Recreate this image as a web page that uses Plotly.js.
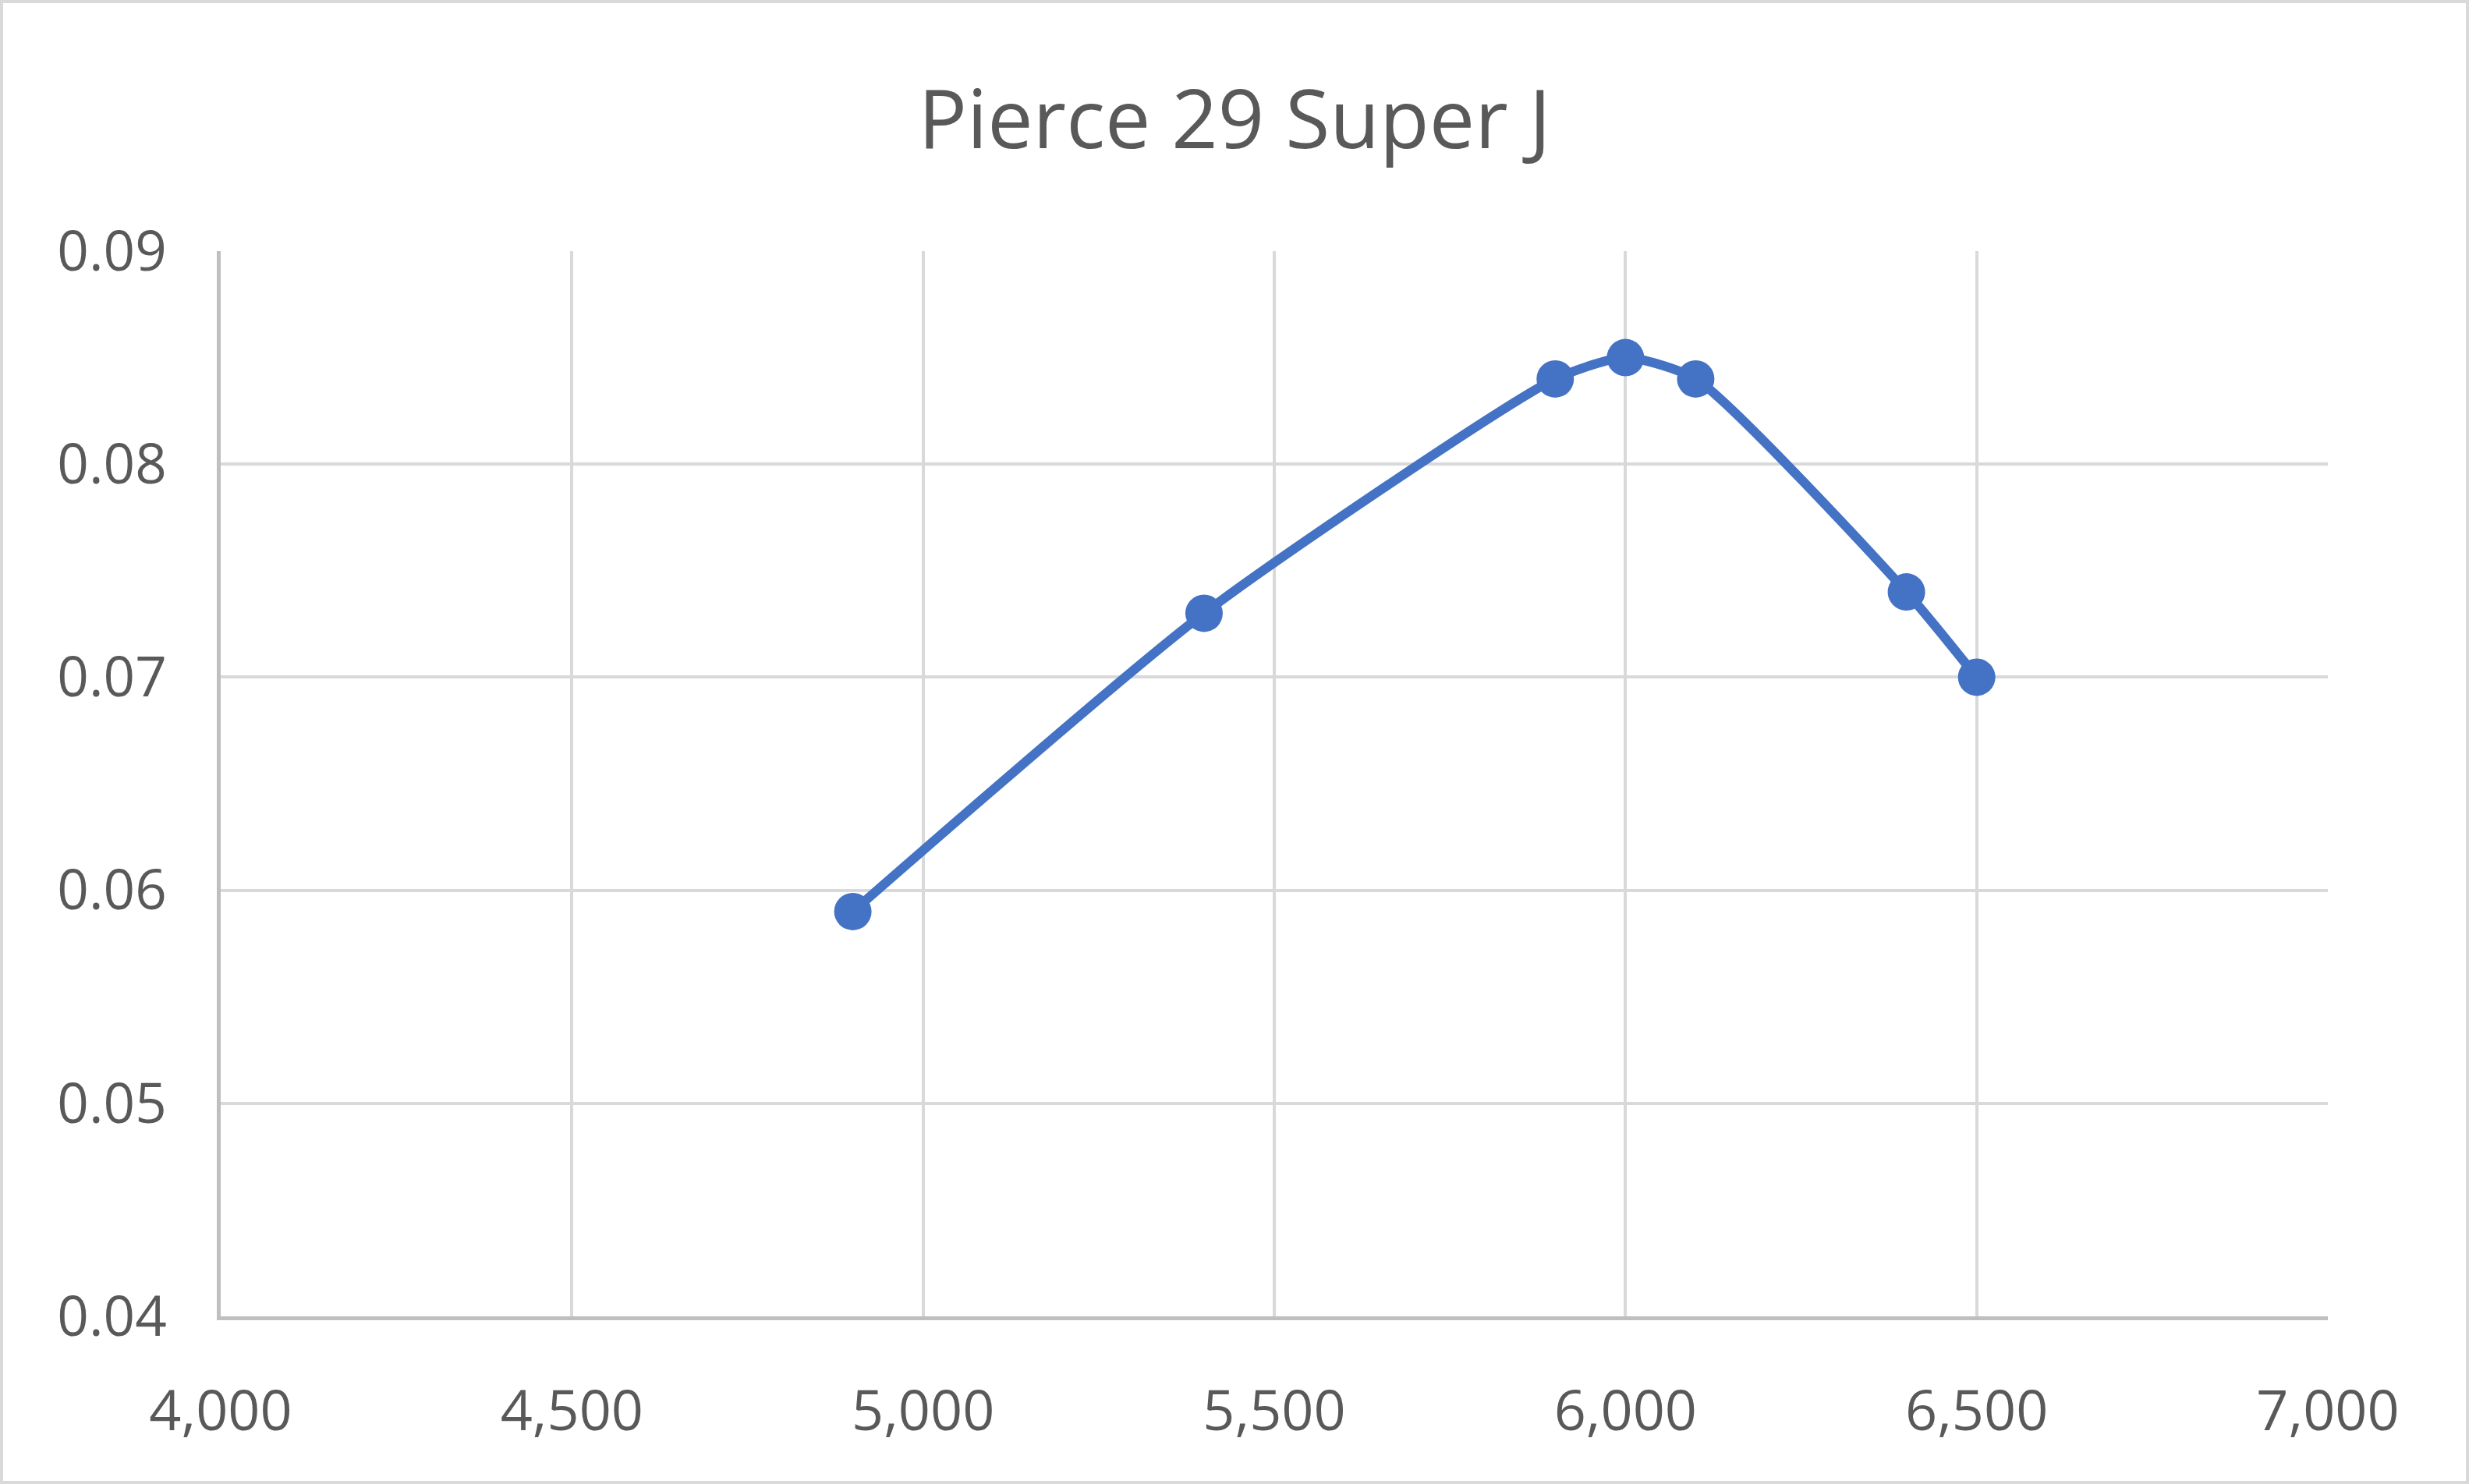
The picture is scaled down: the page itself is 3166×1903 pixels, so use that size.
<!DOCTYPE html>
<html>
<head>
<meta charset="utf-8">
<script src="https://cdn.plot.ly/plotly-3.0.1.min.js"></script>
<style>
  html, body { margin: 0; padding: 0; background: #fff; }
  #chart { width: 3166px; height: 1903px; box-sizing: border-box; border: 4px solid #d9d9d9; }
</style>
</head>
<body>
<div id="chart"></div>
<script>
// Data
const rpm = [4900, 5400, 5900, 6000, 6100, 6400, 6500];
const value = [0.059, 0.073, 0.084, 0.085, 0.084, 0.074, 0.070];
const chartTitle = "Pierce 29 Super J";
const xTickVals = [4000, 4500, 5000, 5500, 6000, 6500, 7000];
const yTickVals = [0.04, 0.05, 0.06, 0.07, 0.08, 0.09];

const fontFamily = "'Open Sans', 'Noto Sans', sans-serif";
const textColor = "#595959";

const trace = {
  x: rpm,
  y: value,
  type: "scatter",
  mode: "lines+markers",
  line: { color: "#4472C4", width: 12, shape: "spline", smoothing: 0.6 },
  marker: { color: "#4472C4", size: 48 },
  showlegend: false,
  hoverinfo: "x+y"
};

const layout = {
  width: 3158,
  height: 1895,
  paper_bgcolor: "#ffffff",
  plot_bgcolor: "#ffffff",
  margin: { l: 279, r: 177, t: 318, b: 211, pad: 0 },
  font: { family: fontFamily, color: textColor, size: 72 },
  title: {
    text: chartTitle,
    font: { family: fontFamily, color: textColor, size: 104 },
    x: 0.5,
    xref: "container",
    xanchor: "center",
    y: 0.921,
    yref: "container",
    yanchor: "middle"
  },
  xaxis: {
    range: [4000, 7000],
    tickmode: "array",
    tickvals: xTickVals,
    tickformat: ",d",
    showgrid: true,
    gridcolor: "#d9d9d9",
    gridwidth: 4,
    showline: true,
    linecolor: "#bfbfbf",
    linewidth: 5,
    ticks: "",
    ticklabelstandoff: 55,
    zeroline: false,
    tickfont: { family: fontFamily, color: textColor, size: 72 }
  },
  yaxis: {
    range: [0.04, 0.09],
    tickmode: "array",
    tickvals: yTickVals,
    tickformat: ".2f",
    showgrid: true,
    gridcolor: "#d9d9d9",
    gridwidth: 4,
    showline: true,
    linecolor: "#bfbfbf",
    linewidth: 5,
    ticks: "",
    ticklabelstandoff: 50,
    zeroline: false,
    tickfont: { family: fontFamily, color: textColor, size: 71 }
  }
};

Plotly.newPlot("chart", [trace], layout, { displayModeBar: false, staticPlot: true });
</script>
</body>
</html>
